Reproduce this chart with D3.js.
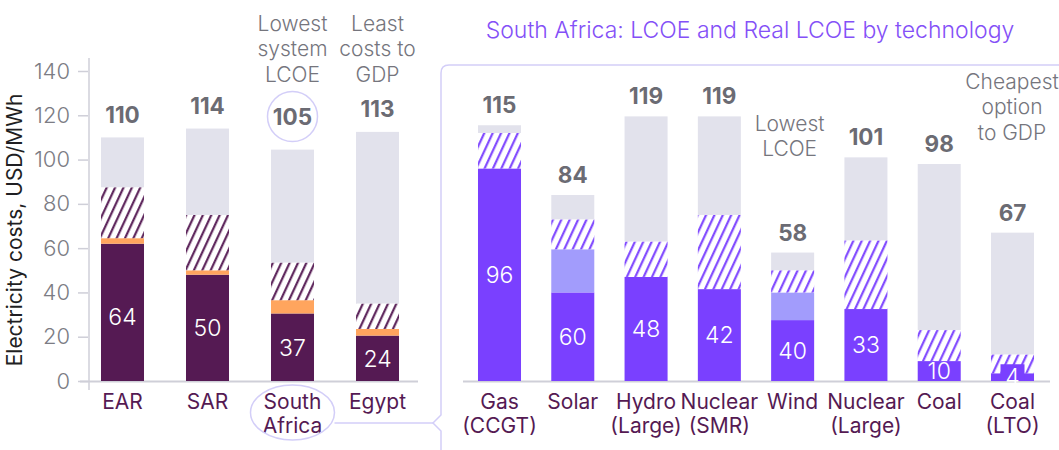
<!DOCTYPE html>
<html>
<head>
<meta charset="utf-8">
<script src="https://cdn.jsdelivr.net/npm/d3@7/dist/d3.min.js"></script>
<style>
  html, body { margin: 0; padding: 0; background: #fff; }
  svg { display: block; font-family: "Inter", "Noto Sans", sans-serif; }
</style>
</head>
<body>
<svg id="chart" width="1059" height="450"></svg>
<script>
// ---------- Data ----------
const leftCategories = ["EAR", "SAR", "South Africa", "Egypt"];
const leftGeneration = [62, 48, 30.5, 20.5];
const leftStorage    = [2.5, 2, 6, 3];
const leftNetwork    = [23, 25, 17, 11.5];
const leftGdp        = [22.5, 39, 51, 77.5];
const leftTotals     = [110, 114, 105, 113];
const leftInner      = [64, 50, 37, 24];

const rightCategories = ["Gas (CCGT)", "Solar", "Hydro (Large)", "Nuclear (SMR)", "Wind", "Nuclear (Large)", "Coal", "Coal (LTO)"];
const rightLcoe      = [96, 40, 47, 41.5, 27.5, 32.5, 9, 3.5];
const rightFirming   = [0, 19.5, 0, 0, 12.5, 0, 0, 0];
const rightSystem    = [16, 13.5, 16, 33.5, 10, 31, 14, 8.5];
const rightGdp       = [3.5, 11, 56.5, 44.5, 8, 37.5, 75, 55];
const rightTotals    = [115, 84, 119, 119, 58, 101, 98, 67];
const rightInner     = [96, 60, 48, 42, 40, 33, 10, 4];

const yTicks = [0, 20, 40, 60, 80, 100, 120, 140];
const title = "South Africa: LCOE and Real LCOE by technology";
const yTitle = "Electricity costs, USD/MWh";

// ---------- Setup ----------
const svg = d3.select("#chart");
const C = {
  plum: "#551A53", orange: "#FFA55E", grey: "#E2E2EC",
  purple: "#7A40FF", lilac: "#A29CFC",
  label: "#6B6B73", tick: "#7C7C84", cat: "#551A53",
  frame: "#D3CEF8", axis: "#CFCFD8", titleC: "#8450F7"
};

const defs = svg.append("defs");
function hatch(id, color) {
  const p = defs.append("pattern").attr("id", id)
    .attr("patternUnits", "userSpaceOnUse")
    .attr("width", 7.6).attr("height", 10)
    .attr("patternTransform", "rotate(25)");
  p.append("rect").attr("width", 7.6).attr("height", 10).attr("fill", "#fff");
  p.append("line").attr("x1", 1.2).attr("x2", 1.2).attr("y1", 0).attr("y2", 10)
    .attr("stroke", color).attr("stroke-width", 2.1);
}
hatch("hatchPlum", C.plum);
hatch("hatchPurple", C.purple);

const y = d3.scaleLinear().domain([0, 140]).range([381, 71]);

const xL = d3.scaleBand().domain(leftCategories).range([80, 420])
  .paddingInner(0.494).paddingOuter(0.247);
const xR = d3.scaleBand().domain(rightCategories).range([463, 1049])
  .paddingInner(0.413).paddingOuter(0.2045);

// ---------- Y axis ----------
const yAxis = d3.axisLeft(y).tickValues(yTicks).tickSize(10).tickPadding(8);
const gY = svg.append("g").attr("transform", "translate(88,0)").call(yAxis);
gY.select(".domain").remove();
gY.selectAll(".tick line").attr("stroke", C.axis).attr("stroke-width", 1.5);
gY.selectAll(".tick text").attr("fill", C.tick).attr("font-size", 22)
  .attr("font-family", "Inter, sans-serif").attr("font-weight", 300);
svg.append("line").attr("x1", 89).attr("x2", 89).attr("y1", 58).attr("y2", 390)
  .attr("stroke", C.axis).attr("stroke-width", 1.5);

svg.append("text").attr("transform", "translate(21.5,230) rotate(-90)")
  .attr("text-anchor", "middle").attr("font-size", 21).attr("fill", "#1f1f23")
  .attr("font-weight", 400)
  .text(yTitle);

// baselines
svg.append("line").attr("x1", 80).attr("x2", 418).attr("y1", y(0) + 0.5).attr("y2", y(0) + 0.5)
  .attr("stroke", C.axis).attr("stroke-width", 2);
svg.append("line").attr("x1", 463).attr("x2", 1050).attr("y1", y(0) + 0.5).attr("y2", y(0) + 0.5)
  .attr("stroke", C.axis).attr("stroke-width", 2);

// ---------- Stacked bars ----------
function drawStack(x, cats, layers, fills) {
  const rows = cats.map((c, i) => {
    const r = { cat: c };
    layers.forEach((l, j) => r["s" + j] = l[i]);
    return r;
  });
  const keys = layers.map((_, j) => "s" + j);
  const series = d3.stack().keys(keys)(rows);
  const g = svg.append("g");
  series.forEach((s, j) => {
    g.selectAll(null).data(s).join("rect")
      .attr("x", d => x(d.data.cat))
      .attr("width", x.bandwidth())
      .attr("y", d => y(d[1]))
      .attr("height", d => Math.max(0, y(d[0]) - y(d[1])))
      .attr("fill", fills[j]);
  });
  return series;
}

const sL = drawStack(xL, leftCategories,
  [leftGeneration, leftStorage, leftNetwork, leftGdp],
  [C.plum, C.orange, "url(#hatchPlum)", C.grey]);
const sR = drawStack(xR, rightCategories,
  [rightLcoe, rightFirming, rightSystem, rightGdp],
  [C.purple, C.lilac, "url(#hatchPurple)", C.grey]);

// ---------- Labels ----------
function innerLabels(x, cats, base, vals, maxV) {
  svg.append("g").selectAll("text").data(cats).join("text")
    .attr("x", d => x(d) + x.bandwidth() / 2)
    .attr("y", (d, i) => y(Math.min(base[i], maxV) / 2))
    .attr("dy", "0.36em")
    .attr("text-anchor", "middle").attr("font-size", 23).attr("font-weight", 300)
    .attr("fill", "#fff")
    .text((d, i) => vals[i]);
}
// background for small value label that overflows its segment
const ltoI = rightCategories.length - 1;
svg.append("rect")
  .attr("x", xR(rightCategories[ltoI]) + xR.bandwidth() / 2 - 12)
  .attr("width", 24)
  .attr("y", y(rightLcoe[ltoI]) - 9)
  .attr("height", y(0) - y(rightLcoe[ltoI]) + 9)
  .attr("fill", C.purple);

innerLabels(xL, leftCategories, leftGeneration, leftInner, 58);
innerLabels(xR, rightCategories, rightLcoe, rightInner, 200);

function totalLabels(x, cats, series, vals, offFn) {
  const top = series[series.length - 1];
  svg.append("g").selectAll("text").data(cats).join("text")
    .attr("x", d => x(d) + x.bandwidth() / 2)
    .attr("y", (d, i) => y(top[i][1]) - offFn(d))
    .attr("dy", "0.36em")
    .attr("text-anchor", "middle").attr("font-size", 22.5).attr("font-weight", 700)
    .attr("fill", C.label)
    .text((d, i) => vals[i]);
}
totalLabels(xL, leftCategories, sL, leftTotals, d => d === "South Africa" ? 33 : 23);
totalLabels(xR, rightCategories, sR, rightTotals, () => 20);

function catLabels(x, cats) {
  const g = svg.append("g");
  cats.forEach(c => {
    let lines = c.split(" ");
    if (c === "South Africa") lines = ["South", "Africa"];
    const t = g.append("text").attr("text-anchor", "middle")
      .attr("font-size", 21).attr("fill", C.cat);
    lines.forEach((ln, k) => {
      t.append("tspan").attr("x", x(c) + x.bandwidth() / 2)
        .attr("y", 401 + k * 24.5).attr("dy", "0.36em").text(ln);
    });
  });
}
catLabels(xL, leftCategories);
catLabels(xR, rightCategories);

// ---------- Title ----------
svg.append("text").attr("x", 750).attr("y", 30).attr("dy", "0.36em")
  .attr("text-anchor", "middle").attr("font-size", 23).attr("font-weight", 300)
  .attr("fill", C.titleC).text(title);

// ---------- Annotations ----------
function note(cx, y0, lines) {
  const t = svg.append("text").attr("text-anchor", "middle")
    .attr("font-size", 21).attr("fill", "#75757D").attr("font-weight", 300);
  lines.forEach((ln, k) => t.append("tspan").attr("x", cx).attr("y", y0 + k * 25.5)
    .attr("dy", "0.36em").text(ln));
}
const cSA = xL("South Africa") + xL.bandwidth() / 2;
const cEg = xL("Egypt") + xL.bandwidth() / 2;
note(cSA, 23, ["Lowest", "system", "LCOE"]);
note(cEg, 23, ["Least", "costs to", "GDP"]);
note(xR("Wind") + xR.bandwidth() / 2 - 3, 123, ["Lowest", "LCOE"]);
note(1012, 81, ["Cheapest", "option", "to GDP"]);

// ---------- Highlight shapes ----------
const saTop = y(sL[3][2][1]) - 33;
svg.append("circle").attr("cx", cSA).attr("cy", saTop).attr("r", 25)
  .attr("fill", "none").attr("stroke", C.frame).attr("stroke-width", 1.5);
svg.append("ellipse").attr("cx", cSA).attr("cy", 412.5).attr("rx", 42).attr("ry", 27.5)
  .attr("fill", "none").attr("stroke", C.frame).attr("stroke-width", 1.5);
svg.append("line").attr("x1", cSA + 42).attr("x2", 433).attr("y1", 423).attr("y2", 423)
  .attr("stroke", C.frame).attr("stroke-width", 1.5);
svg.append("path")
  .attr("d", "M441,452 L441,431 L433,423 L441,415 L441,73 Q441,65 449,65 L1062,65")
  .attr("fill", "none").attr("stroke", C.frame).attr("stroke-width", 1.5);
</script>
</body>
</html>
